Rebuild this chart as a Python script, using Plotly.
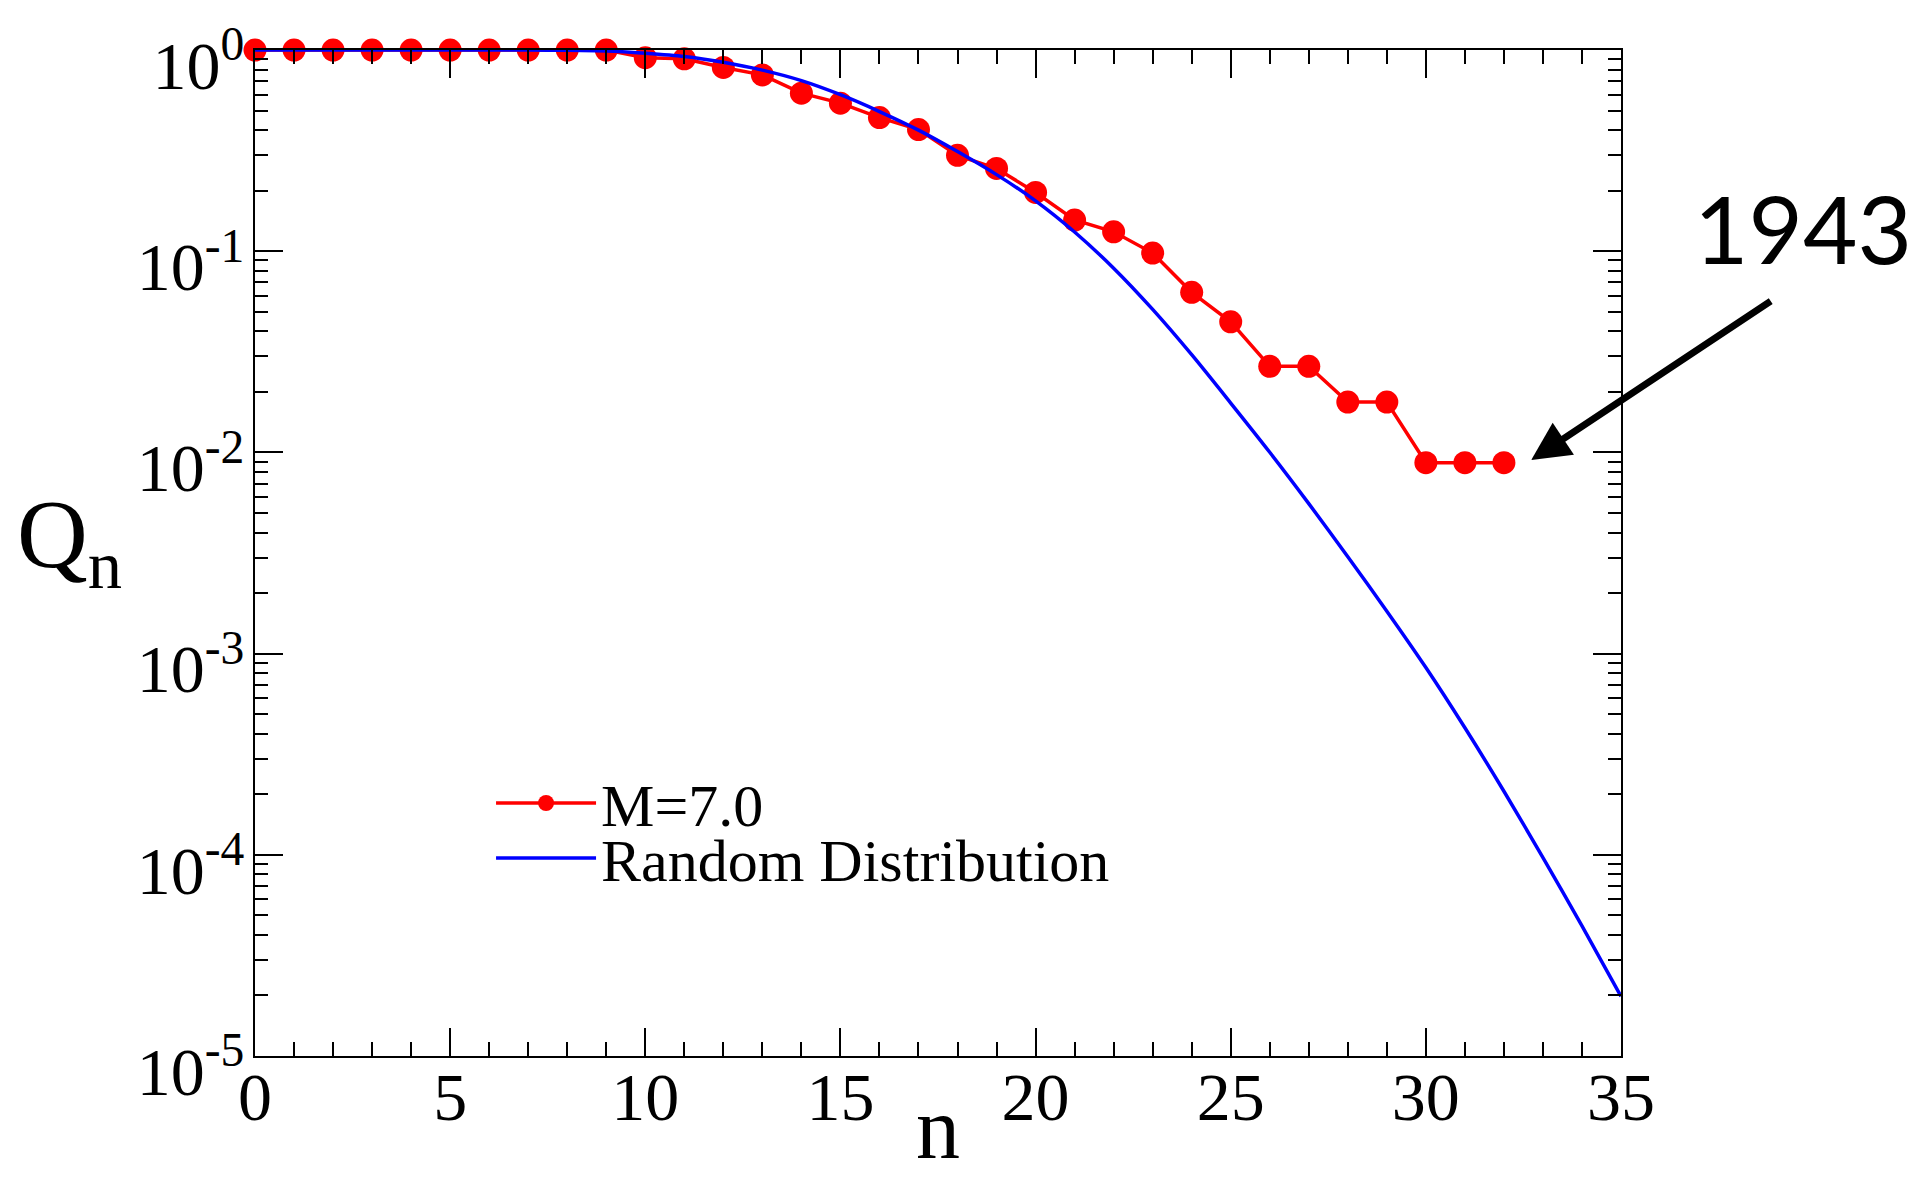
import plotly.graph_objects as go

# ---- data ----
n_obs = list(range(0, 33))
q_obs = [1.0, 1.0, 1.0, 1.0, 1.0, 1.0, 1.0, 1.0, 1.0, 1.0,
         0.917, 0.905, 0.82, 0.753, 0.611, 0.545, 0.462, 0.403, 0.300, 0.258,
         0.196, 0.143, 0.125, 0.098, 0.0625, 0.0446, 0.0268, 0.0268, 0.0178, 0.0178,
         0.0089, 0.0089, 0.0089]

n_rand = list(range(0, 36))
q_rand = [1.0, 1.0, 1.0, 1.0, 1.0, 1.0, 1.0, 1.0, 0.998, 0.99,
          0.965, 0.93, 0.87, 0.795, 0.705, 0.60, 0.495, 0.40, 0.313, 0.2404,
          0.1782, 0.1247, 0.0824, 0.0514, 0.0306, 0.0176, 0.01002, 0.00557, 0.00303, 0.001626,
          0.000853, 0.000428, 0.000207, 0.0000968, 0.0000443, 0.0000198]

y_tickvals = [1, 0.1, 0.01, 0.001, 0.0001, 0.00001]
y_ticktext = ["10<sup>0</sup>", "10<sup>-1</sup>", "10<sup>-2</sup>",
              "10<sup>-3</sup>", "10<sup>-4</sup>", "10<sup>-5</sup>"]
x_tickvals = [0, 5, 10, 15, 20, 25, 30, 35]

label_obs = "M=7.0"
label_rand = "Random Distribution"
annot_text = "1943"

SERIF = "Liberation Serif"

fig = go.Figure()
fig.add_trace(go.Scatter(
    x=n_obs, y=q_obs, mode="lines+markers", name=label_obs,
    line=dict(color="#ff0000", width=3.5),
    marker=dict(color="#ff0000", size=23, symbol="circle"),
    cliponaxis=False, legend="legend",
))
fig.add_trace(go.Scatter(
    x=n_rand, y=q_rand, mode="lines", name=label_rand,
    line=dict(color="#0000ff", width=3.5, shape="spline", smoothing=0.8),
    cliponaxis=False, legend="legend2",
))

axis_common = dict(
    showline=True, linecolor="black", linewidth=2, mirror="allticks",
    ticks="inside", tickcolor="black", tickwidth=2, ticklen=28,
    showgrid=False, zeroline=False,
)

fig.update_xaxes(
    range=[0, 35], tickmode="array", tickvals=x_tickvals,
    tickfont=dict(family=SERIF, size=68, color="black"),
    minor=dict(ticks="inside", ticklen=14, tickwidth=2, tickcolor="black", dtick=1, showgrid=False),
    ticklabelstandoff=-20,
    **axis_common,
)
fig.update_yaxes(
    type="log", range=[-5, 0.0005], tickmode="array", tickvals=y_tickvals, ticktext=y_ticktext,
    tickfont=dict(family=SERIF, size=68, color="black"),
    minor=dict(ticks="inside", ticklen=13, tickwidth=2, tickcolor="black", dtick="D1", showgrid=False),
    ticklabelshift=15, ticklabelstandoff=-5,
    **axis_common,
)

fig.add_annotation(
    text="Q<sub>n</sub>", xref="paper", yref="paper", x=-0.136, y=0.511,
    showarrow=False, font=dict(family=SERIF, size=98, color="black"),
    xanchor="center", yanchor="middle",
)
fig.add_annotation(
    text="n", xref="paper", yref="paper", x=0.5, y=-0.1225,
    showarrow=False, font=dict(family=SERIF, size=88, color="black"),
    xanchor="center", yanchor="bottom",
)
fig.add_annotation(
    text=annot_text, xref="paper", yref="paper", x=1.133, y=0.824,
    showarrow=False, font=dict(family="Lato", size=94, color="black"),
    xanchor="center", yanchor="middle",
)
fig.add_annotation(
    text="", x=32.7, y=-2.038, xref="x", yref="y",
    showarrow=True, arrowhead=2, arrowsize=1.1, arrowwidth=7, arrowcolor="black",
    ax=241, ay=-160, standoff=0,
)

legend_common = dict(
    xanchor="left", yanchor="middle",
    font=dict(family=SERIF, size=60, color="black"),
    bgcolor="rgba(0,0,0,0)", itemwidth=100, borderwidth=0,
)

fig.update_layout(
    width=1923, height=1179,
    margin=dict(l=255, r=302, t=50, b=123),
    paper_bgcolor="white", plot_bgcolor="white",
    showlegend=True,
    legend=dict(x=0.1728, y=0.2515, **legend_common),
    legend2=dict(x=0.1728, y=0.1968, **legend_common),
)

fig.write_html("out.html", config={"displayModeBar": False},
               post_script="document.body.style.margin='0';")
